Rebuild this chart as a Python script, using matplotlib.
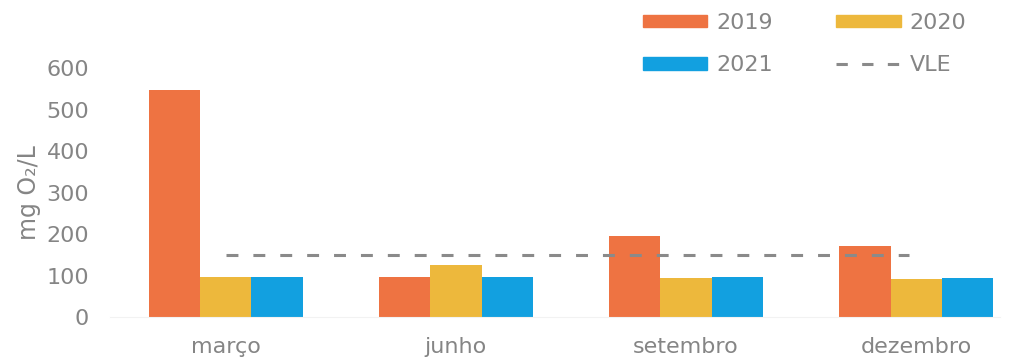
import numpy as np
import matplotlib
matplotlib.use("Agg")
import matplotlib.pyplot as plt
from matplotlib.lines import Line2D
from matplotlib.patches import Patch

plt.rcParams['font.family'] = ['DejaVu Sans']

# Monthly values (mg O2/L) per year
months = ['março', 'junho', 'setembro', 'dezembro']
v2019 = [547, 96, 195, 173]
v2020 = [98, 126, 94, 93]
v2021 = [98, 97, 96, 94]
vle = 150  # limit value
vle_span = (0, 2.97)  # x extent of the limit line

c2019 = '#EE7342'
c2020 = '#EDB83C'
c2021 = '#12A0E0'
txt = '#858585'
fs = 16

fig = plt.figure(figsize=(10.14, 3.61), dpi=100)
ax = fig.add_axes([110 / 1014, 43.7 / 361, 890 / 1014, 249 / 361])

x = np.arange(len(months))
w = 0.222
ax.bar(x - w, v2019, w, color=c2019, label='2019')
ax.bar(x, v2020, w, color=c2020, label='2020')
ax.bar(x + w, v2021, w, color=c2021, label='2021')
lw = 2.2
dash = (0, (3.9, 4.9))
ax.plot(vle_span, [vle, vle], color='#8a8a8a', lw=lw, ls=dash, label='VLE')

ax.set_xlim(-0.504, 3.365)
ax.set_ylim(0, 600)
ax.set_yticks(range(0, 601, 100))
ax.set_xticks(x)
ax.set_xticklabels(months)
ax.tick_params(length=0, labelsize=fs, labelcolor=txt)
ax.tick_params(axis='y', pad=15)
ax.tick_params(axis='x', pad=14)
for s in ['top', 'right', 'left']:
    ax.spines[s].set_visible(False)
ax.spines['bottom'].set_color('#f2f2f2')
ax.set_ylabel('mg O₂/L', fontsize=fs + 1, color=txt, labelpad=4)

# legend laid out row by row: 2019, 2020 / 2021, VLE
handles = [Patch(color=c2019), Patch(color=c2021), Patch(color=c2020),
           Line2D([], [], color='#8a8a8a', lw=lw, ls=(0, (3.7, 4.7)))]
labels = ['2019', '2021', '2020', 'VLE']
fig.legend(handles, labels,
           ncol=2, loc='upper left', bbox_to_anchor=(643 / 1014, 1 - 13 / 361),
           frameon=False, labelcolor=txt, borderpad=0, borderaxespad=0,
           handlelength=2.9, handleheight=0.5, handletextpad=0.4,
           columnspacing=2.85, labelspacing=1.0,
           prop={'family': 'DejaVu Sans', 'size': fs})

fig.savefig('out.png', dpi=100)
